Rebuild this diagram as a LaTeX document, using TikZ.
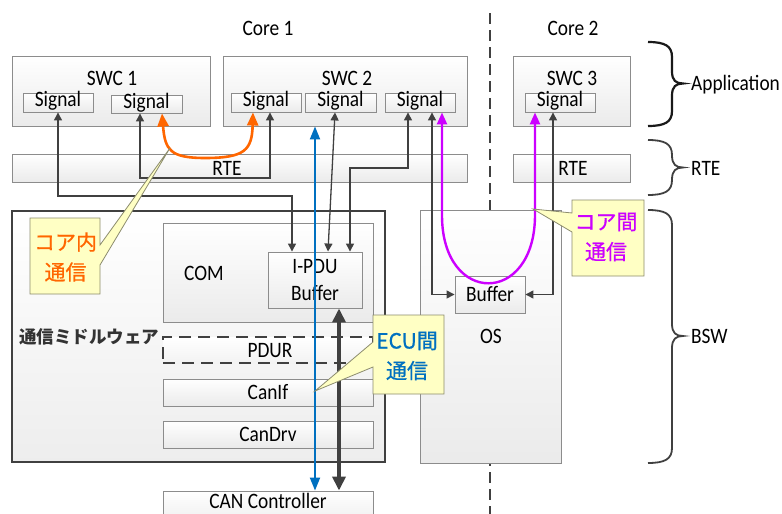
\documentclass[tikz,border=0pt]{standalone}
\usepackage{fontspec}
\setmainfont{Carlito}[FakeStretch=0.88]
\newfontfamily\jp{Noto Sans CJK JP}
\newfontfamily\jpm{Noto Sans CJK JP}[FakeBold=0.6]
\usetikzlibrary{arrows.meta}
\definecolor{dg}{HTML}{404040}
\definecolor{bordergray}{HTML}{8C8C8C}
\definecolor{orng}{HTML}{FF6600}
\definecolor{blu}{HTML}{0070C0}
\definecolor{mag}{HTML}{CC00FF}
\definecolor{callfill}{HTML}{FFFFC4}
\definecolor{callline}{HTML}{8C8C6E}
\newcommand\mybrace[4]{%
  \draw[#4] (648,#1) .. controls (665,#1) and (672,#1+4) .. (672,#1+15) -- (672,#2-12)
    .. controls (672,#2-3) and (676,#2) .. (683,#2)
    .. controls (676,#2) and (672,#2+3) .. (672,#2+12) -- (672,#3-15)
    .. controls (672,#3-4) and (665,#3) .. (648,#3);}
\begin{document}
\begin{tikzpicture}[x=1pt,y=-1pt,
  lbl/.style={inner sep=0pt, font=\fontsize{22}{26}\selectfont, text height=16pt, text depth=2pt},
  box/.style={draw=bordergray, line width=0.9pt, top color=white, bottom color=black!8, inner sep=0pt},
  sig/.style={box, minimum width=70pt, minimum height=19pt, font=\fontsize{22}{26}\selectfont, text height=11.5pt, text depth=3pt},
  mwbox/.style={draw=dg, line width=2.2pt, top color=white, bottom color=black!7, inner sep=0pt},
  dashbox/.style={draw=dg, line width=2pt, dash pattern=on 12pt off 7pt, top color=white, bottom color=black!5, inner sep=0pt},
  link/.style={draw=dg, line width=1.3pt, {Triangle[length=8pt,width=8pt]}-{Triangle[length=8pt,width=8pt]}},
  orangearrow/.style={draw=orng, line width=2.6pt, {Triangle[length=13pt,width=11pt]}-{Triangle[length=13pt,width=11pt]}},
  magarrow/.style={draw=mag, line width=2.4pt, {Triangle[length=12pt,width=10pt]}-{Triangle[length=12pt,width=10pt]}},
  bluearrow/.style={draw=blu, line width=2pt, {Triangle[length=13pt,width=10pt]}-{Triangle[length=13pt,width=10pt]}},
  bigarrow/.style={draw=dg, line width=4pt, {Triangle[length=14pt,width=13pt]}-{Triangle[length=14pt,width=13pt]}},
  callout/.style={draw=callline, line width=0.8pt, fill=callfill},
  calltext/.style={inner sep=0pt, align=center, font=\jpm\fontsize{21}{30}\selectfont},
  corediv/.style={draw=dg, line width=2pt, dash pattern=on 11pt off 6pt},
]
\useasboundingbox (0,0) rectangle (782,514);
\fill[white] (0,0) rectangle (782,514);

% core divider
\coordinate (divtop) at (490,13);
\coordinate (divbot) at (490,514);
\draw[corediv] (divtop) -- (divbot);

% headers
\node[lbl] (core1) at (268,28) {Core 1};
\node[lbl] (core2) at (573,28) {Core 2};

% application layer
\node[box, minimum width=198pt, minimum height=70pt] (swc1) at (111,91) {};
\node[lbl] (swc1t) at (112,78) {SWC 1};
\node[sig] (s1a) at (58,102.5) {Signal};
\node[sig, minimum width=71pt, minimum height=18pt] (s1b) at (146.5,104) {Signal};

\node[box, minimum width=244pt, minimum height=70pt] (swc2) at (345,91) {};
\node[lbl] (swc2t) at (347,78) {SWC 2};
\node[sig] (s2a) at (266,102.5) {Signal};
\node[sig, minimum width=71pt] (s2b) at (340.5,102.5) {Signal};
\node[sig] (s2c) at (420,102.5) {Signal};

\node[box, minimum width=117pt, minimum height=70pt] (swc3) at (571.5,91) {};
\node[lbl] (swc3t) at (572,78) {SWC 3};
\node[sig] (s3) at (560,102.5) {Signal};

% RTE
\node[box, minimum width=455pt, minimum height=28pt] (rte1) at (239.5,168) {};
\node[lbl] (rte1t) at (227,168) {RTE};
\node[box, minimum width=117pt, minimum height=28pt] (rte2) at (571.5,168) {};
\node[lbl] (rte2t) at (573,168) {RTE};

% communication middleware
\node[mwbox, minimum width=373pt, minimum height=251pt] (mw) at (198.5,336.5) {};
\node[box, minimum width=210pt, minimum height=99pt] (com) at (268,272.5) {};
\node[lbl] (comt) at (204,273) {COM};
\node[box, minimum width=94pt, minimum height=56pt, align=center, font=\fontsize{22}{27}\selectfont] (ipdu) at (315,280) {I-PDU\\Buffer};
\node[inner sep=0pt, anchor=west, font=\jp\bfseries\fontsize{17.5}{20}\selectfont, text=black!80] (mwt) at (19,337) {通信ミドルウェア};
\node[dashbox, minimum width=210pt, minimum height=26pt] (pdur) at (268,350) {};
\node[lbl] (pdurt) at (270,350) {PDUR};
\node[box, minimum width=210pt, minimum height=27pt] (canif) at (268,392.5) {};
\node[lbl] (caniftext) at (268,392) {CanIf};
\node[box, minimum width=210pt, minimum height=27pt] (candrv) at (268,434.5) {};
\node[lbl] (candrvt) at (268,434) {CanDrv};
\node[box, minimum width=210pt, minimum height=40pt] (canctl) at (268,511) {};
\node[lbl, text depth=0pt, text height=14pt] (canctlt) at (268,501.5) {CAN Controller};

% OS
\node[box, minimum width=141pt, minimum height=253pt] (os) at (490.5,336.5) {};
\node[lbl] (ost) at (491,336) {OS};
\node[sig, minimum height=37pt, text height=16pt, text depth=2pt] (osbuf) at (490,294.5) {Buffer};

% gray signal connectors
\draw[link] (s1a.south) -- (s1a.south |- 0,196) -| ([xshift=-23pt]ipdu.north);
\draw[link] ([xshift=-6.5pt]s1b.south) -- ([xshift=-6.5pt]s1b.south |- 0,178) -| ([xshift=4pt]s2a.south);
\draw[link] ([xshift=-5.5pt]s2b.south) -- ([xshift=13pt]ipdu.north);
\draw[link] ([xshift=-12pt]s2c.south) -- ([xshift=-12pt]s2c.south |- 0,168) -| ([xshift=35pt]ipdu.north);
\draw[link] ([xshift=12pt]s2c.south) |- (osbuf.west);
\draw[link] ([xshift=-7pt]s3.south) |- (osbuf.east);

% intra-core (orange)
\draw[orangearrow] ([xshift=15.5pt]s1b.south) .. controls (165,150) and (170,158) .. (205,158)
   .. controls (245,158) and (252,150) .. ([xshift=-13pt]s2a.south);
% inter-core (magenta)
\draw[magarrow] ([xshift=22pt]s2c.south) -- ++(0,103) .. controls (442,306) and (535,306) .. (535,215) -- ([xshift=-25pt]s3.south);
% inter-ECU (blue)
\draw[bluearrow] (swc2.south -| ipdu.north) -- (ipdu.south |- canctl.north);
% data path
\draw[bigarrow] ([xshift=24pt]ipdu.south) -- ([xshift=24pt]ipdu.south |- canctl.north);

% callouts
\draw[callout] (30,218) -- (100,218) -- (100,245) -- (170,148) -- (100,265) -- (100,294) -- (30,294) -- cycle;
\node[calltext, text=orng] (c1) at (65.5,257) {コア内\\通信};
\draw[callout] (373,315) -- (444,315) -- (444,394) -- (373,394) -- (373,367) -- (315,391) -- (373,342) -- cycle;
\node[calltext, text=blu] (c2) at (407,356) {ECU間\\通信};
\draw[callout] (572,200) -- (644,200) -- (644,276) -- (572,276) -- (572,232) -- (533,209) -- (572,213) -- cycle;
\node[calltext, text=mag] (c3) at (606,237) {コア間\\通信};

% braces
\mybrace{42}{83.5}{126}{draw=black!90, line width=2.2pt}
\mybrace{140}{167.5}{195}{draw=dg, line width=1.8pt}
\mybrace{210}{336}{463}{draw=dg, line width=1.8pt}
\node[lbl, anchor=west] (appt) at (691,83) {Application};
\node[lbl, anchor=west] (rtet) at (691,168) {RTE};
\node[lbl, anchor=west] (bswt) at (691,336) {BSW};
\end{tikzpicture}
\end{document}
